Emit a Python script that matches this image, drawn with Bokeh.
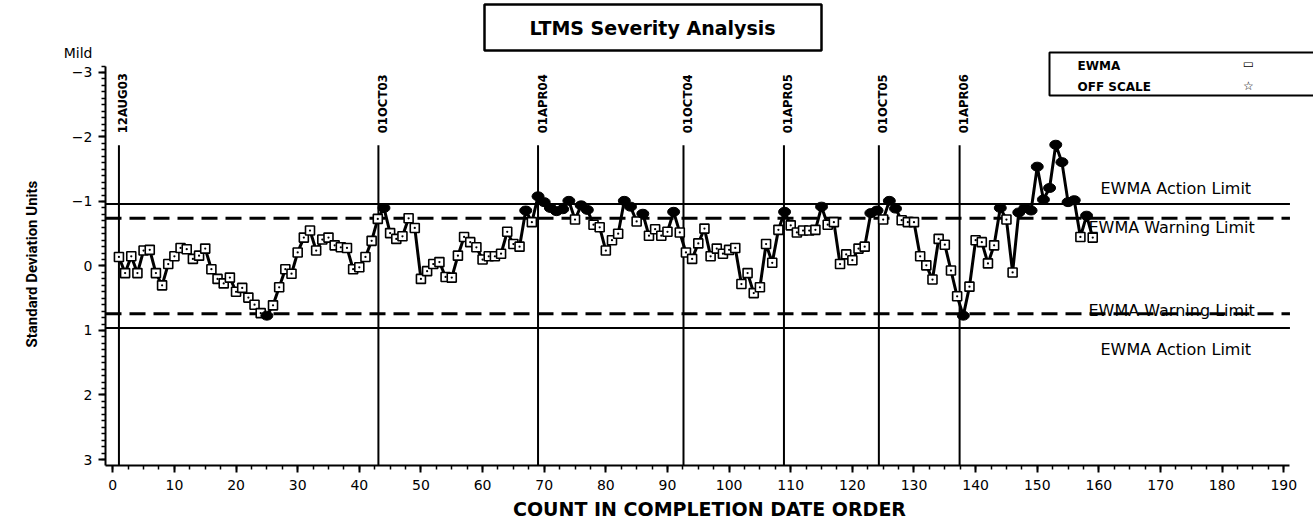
import math
from bokeh.plotting import figure
from bokeh.models import Range1d, FixedTicker, Label, BoxAnnotation, Title
from bokeh.embed import file_html
from bokeh.resources import INLINE
from bokeh.core.properties import value

# ---------------- data ----------------
counts = list(range(1, 160))
ewma = [
    -0.14, 0.11, -0.15, 0.11, -0.24, -0.25, 0.11, 0.30, -0.03, -0.15,
    -0.28, -0.26, -0.11, -0.16, -0.27, 0.05, 0.20, 0.27, 0.18, 0.40,
    0.34, 0.49, 0.60, 0.73, 0.77, 0.61, 0.33, 0.05, 0.12, -0.21,
    -0.44, -0.55, -0.24, -0.41, -0.44, -0.32, -0.29, -0.28, 0.05, 0.02,
    -0.14, -0.39, -0.73, -0.90, -0.51, -0.42, -0.46, -0.74, -0.59, 0.20,
    0.08, -0.03, -0.06, 0.17, 0.18, -0.16, -0.45, -0.37, -0.29, -0.10,
    -0.15, -0.15, -0.19, -0.53, -0.34, -0.30, -0.86, -0.68, -1.08, -0.99,
    -0.90, -0.85, -0.88, -1.01, -0.72, -0.94, -0.87, -0.64, -0.60, -0.24,
    -0.40, -0.50, -1.01, -0.92, -0.69, -0.81, -0.47, -0.57, -0.47, -0.53,
    -0.84, -0.52, -0.21, -0.11, -0.35, -0.58, -0.15, -0.27, -0.19, -0.25,
    -0.28, 0.28, 0.11, 0.42, 0.33, -0.34, -0.05, -0.56, -0.84, -0.63,
    -0.52, -0.55, -0.55, -0.56, -0.92, -0.64, -0.68, -0.03, -0.18, -0.09,
    -0.27, -0.30, -0.82, -0.86, -0.72, -1.01, -0.89, -0.71, -0.68, -0.68,
    -0.15, -0.01, 0.21, -0.42, -0.33, 0.07, 0.47, 0.77, 0.32, -0.40,
    -0.37, -0.04, -0.32, -0.90, -0.72, 0.10, -0.83, -0.90, -0.86, -1.54,
    -1.03, -1.21, -1.88, -1.61, -0.99, -1.02, -0.45, -0.78, -0.44,
]
action_limit = 0.96
warning_limit = 0.74
date_counts = [1.0, 43.1, 69.0, 92.6, 108.9, 124.3, 137.4]
date_labels = ["12AUG03", "01OCT03", "01APR04", "01OCT04", "01APR05", "01OCT05", "01APR06"]
date_line_top = -1.87
x_ticks = list(range(0, 191, 10))
y_ticks = [-3, -2, -1, 0, 1, 2, 3]
y_tick_labels = {-3: "Mild\n\u22123\n ", -2: "\u22122", -1: "\u22121", 0: "0", 1: "1", 2: "2", 3: "3"}
x_axis_bounds = (-1.18, 191)
y_axis_bounds = (-3.1, 3.093)

# ---------------- layout helpers (page pixels -> data, for decorations) ----------------
X_START, X_END = -1.18, 194.82
Y_TOP, Y_BOTTOM = -4.116, 3.093
FRAME_LEFT, FRAME_W, FRAME_H = 105, 1208, 465


def px_to_x(px):
    return X_START + (px - FRAME_LEFT) * (X_END - X_START) / FRAME_W


def px_to_y(py):
    return Y_TOP + py * (Y_BOTTOM - Y_TOP) / FRAME_H


# ---------------- figure ----------------
FONT = "DejaVu Sans"
p = figure(width=1313, height=523, output_backend="svg", toolbar_location=None,
           x_range=Range1d(X_START, X_END), y_range=Range1d(Y_BOTTOM, Y_TOP),
           min_border_left=FRAME_LEFT, min_border_right=0, min_border_top=0,
           min_border_bottom=523 - FRAME_H)
p.xgrid.visible = False
p.ygrid.visible = False
p.outline_line_color = None
p.background_fill_color = "white"

p.xaxis.ticker = FixedTicker(ticks=x_ticks, minor_ticks=[i * 2.5 for i in range(0, 77)])
p.yaxis.ticker = FixedTicker(ticks=y_ticks, minor_ticks=[round(-3.1 + 0.1 * i, 2) for i in range(0, 62)])
p.yaxis.major_label_overrides = y_tick_labels
p.xaxis.bounds = x_axis_bounds
p.yaxis.bounds = y_axis_bounds

for ax in (p.xaxis[0], p.yaxis[0]):
    ax.axis_line_width = 2
    ax.axis_line_color = "black"
    ax.major_tick_line_width = 2
    ax.minor_tick_line_width = 1.5
    ax.major_tick_line_color = "black"
    ax.minor_tick_line_color = "black"
    ax.major_tick_in = 0
    ax.minor_tick_in = 0
    ax.major_tick_out = 7
    ax.minor_tick_out = 4
    ax.major_label_text_font = FONT
    ax.major_label_text_font_size = "14px"
    ax.major_label_text_color = "black"

p.xaxis.major_label_standoff = 7
p.yaxis.major_label_standoff = 6
p.xaxis.axis_label = "COUNT IN COMPLETION DATE ORDER"
p.xaxis.axis_label_text_font = FONT
p.xaxis.axis_label_text_font_style = "bold"
p.xaxis.axis_label_text_font_size = "19px"
p.xaxis.axis_label_standoff = 5
p.xaxis.axis_label_text_color = "black"

# y axis title as a left-side title so it can be centred on the axis rather than the frame
p.add_layout(Title(text="Standard Deviation Units", align="left", offset=118, standoff=39,
                   text_font="Roboto", text_font_style="bold", text_font_size="15px",
                   text_color="black"), "left")

# limit lines
for lim in (-action_limit, action_limit):
    p.segment(x0=x_axis_bounds[0], x1=x_axis_bounds[1], y0=lim, y1=lim,
              line_color="black", line_width=2)
for lim in (-warning_limit, warning_limit):
    p.segment(x0=x_axis_bounds[0], x1=x_axis_bounds[1], y0=lim, y1=lim,
              line_color="black", line_width=3, line_dash="16 8")

# date reference lines and labels
p.segment(x0=date_counts, y0=[date_line_top] * len(date_counts), x1=date_counts,
          y1=[y_axis_bounds[1]] * len(date_counts), line_color="black", line_width=2)
p.text(x=date_counts, y=[date_line_top] * len(date_counts), text=date_labels,
       angle=math.pi / 2, text_align="left", text_baseline="middle",
       x_offset=4, y_offset=-12, text_font=value("DejaVu Sans Condensed"),
       text_font_style="bold", text_font_size="13px", text_color="black")

# series
p.line(counts, ewma, line_color="black", line_width=3)
inside_x = [c for c, v in zip(counts, ewma) if abs(v) <= warning_limit]
inside_y = [v for v in ewma if abs(v) <= warning_limit]
out_x = [c for c, v in zip(counts, ewma) if abs(v) > warning_limit]
out_y = [v for v in ewma if abs(v) > warning_limit]
p.scatter(inside_x, inside_y, marker="square_dot", size=9, fill_color="white",
          line_color="black", line_width=1.6)
p.ellipse(out_x, out_y, width=12, height=9, width_units="screen", height_units="screen",
          fill_color="black", line_color="black")

# limit labels
lab_kw = dict(text_font=FONT, text_font_size="16px", text_color="black",
              text_align="left", text_baseline="middle")
p.add_layout(Label(x=px_to_x(1100), y=-action_limit, y_offset=16, text="EWMA Action Limit", **lab_kw))
p.add_layout(Label(x=px_to_x(1088), y=-warning_limit, y_offset=-9, text="EWMA Warning Limit", **lab_kw))
p.add_layout(Label(x=px_to_x(1088), y=warning_limit, y_offset=3, text="EWMA Warning Limit", **lab_kw))
p.add_layout(Label(x=px_to_x(1100), y=action_limit, y_offset=-22, text="EWMA Action Limit", **lab_kw))

# title box
p.add_layout(BoxAnnotation(left=379, right=716, top=461, bottom=415,
                           left_units="screen", right_units="screen",
                           top_units="screen", bottom_units="screen",
                           fill_color="white", fill_alpha=1.0,
                           line_color="black", line_alpha=1.0, line_width=2.5))
p.add_layout(Label(x=547, y=438, x_units="screen", y_units="screen",
                   text="LTMS Severity Analysis", text_font=FONT, text_font_style="bold",
                   text_font_size="19px", text_color="black",
                   text_align="center", text_baseline="middle"))

# legend box (runs off the right edge, as in the original)
p.quad(left=px_to_x(1049), right=px_to_x(1340), top=px_to_y(52), bottom=px_to_y(95),
       fill_color="white", line_color="black", line_width=2)
leg_kw = dict(x_units="screen", y_units="screen", text_font=FONT, text_font_size="12px",
              text_font_style="bold", text_color="black", text_baseline="middle")
p.add_layout(Label(x=972, y=400, text="EWMA", text_align="left", **leg_kw))
p.add_layout(Label(x=972, y=379, text="OFF SCALE", text_align="left", **leg_kw))
p.add_layout(Label(x=1143, y=402, text="\u25ad", text_align="center", **leg_kw))
p.add_layout(Label(x=1143, y=380, text="\u2606", text_align="center", **leg_kw))

open("out.html", "w").write(file_html(p, INLINE))
